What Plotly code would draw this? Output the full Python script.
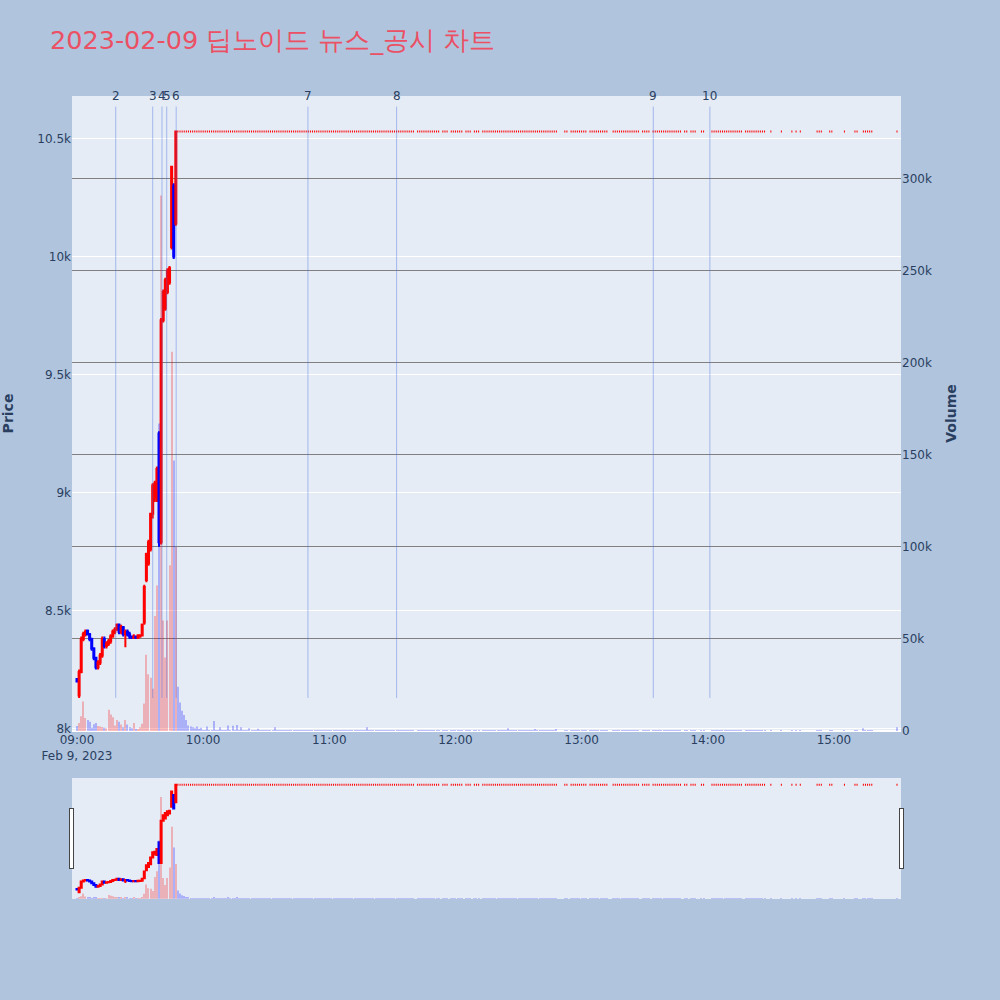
import pandas as pd
import plotly.graph_objects as go
from plotly.subplots import make_subplots

TITLE = '2023-02-09 딥노이드 뉴스_공시 차트'
DAY = '2023-02-09'
LIMIT_PRICE = 10530  # 상한가

# 1. 09:00 ~ 09:47 1분봉 (09:00 기준 분 오프셋)
early_min = list(range(48))
early_open = [8210, 8140, 8240, 8380, 8400, 8415, 8400, 8380, 8340, 8300,
              8260, 8280, 8310, 8380, 8350, 8360, 8370, 8390, 8410, 8420,
              8440, 8410, 8430, 8400, 8410, 8400, 8390, 8385, 8390, 8385,
              8390, 8395, 8450, 8630, 8700, 8760, 8910, 8980, 8970, 9250,
              8790, 9730, 9780, 9850, 9890, 10040, 10300, 10140]
early_high = [8215, 8250, 8390, 8410, 8420, 8420, 8405, 8385, 8345, 8305,
              8290, 8320, 8390, 8390, 8370, 8380, 8400, 8420, 8430, 8445,
              8445, 8440, 8435, 8420, 8420, 8410, 8395, 8400, 8395, 8400,
              8400, 8445, 8610, 8745, 8800, 8915, 9040, 9050, 9110, 9260,
              9740, 9860, 9910, 9950, 9960, 10385, 10310, 10530]
early_low = [8195, 8130, 8235, 8370, 8390, 8395, 8370, 8330, 8290, 8250,
             8250, 8270, 8300, 8340, 8340, 8350, 8360, 8385, 8400, 8415,
             8400, 8400, 8390, 8345, 8390, 8380, 8380, 8380, 8380, 8380,
             8385, 8390, 8440, 8620, 8690, 8750, 8890, 8960, 8960, 8770,
             8780, 9720, 9770, 9840, 9880, 10030, 9990, 10130]
early_close = [8200, 8240, 8380, 8400, 8410, 8400, 8380, 8340, 8300, 8260,
               8280, 8310, 8380, 8350, 8360, 8370, 8390, 8410, 8420, 8440,
               8410, 8430, 8400, 8410, 8400, 8390, 8385, 8390, 8385, 8395,
               8395, 8440, 8600, 8740, 8790, 8910, 9030, 9040, 9100, 8790,
               9730, 9850, 9900, 9940, 9950, 10380, 10000, 10530]
early_vol = [2700, 4400, 8000, 16000, 7000, 6000, 5000, 1800, 3600, 4400,
             2700, 2500, 2200, 1800, 1500, 11600, 9000, 7500, 3000, 6000,
             5000, 3500, 2000, 6000, 3500, 2000, 1500, 4400, 1200, 800,
             2000, 4000, 15000, 41400, 30800, 28900, 23000, 62500, 79000, 167000,
             291000, 60000, 40000, 60000, 90000, 206000, 147000, 100000]

# 2. 상한가 이후 체결이 있었던 분 구간 (시작, 끝)
limit_ranges = [(48, 160), (162, 172), (174, 176), (178, 183), (185, 187),
                (189, 191), (193, 228), (232, 233), (235, 242), (244, 252),
                (255, 267), (269, 272), (274, 284), (285, 287), (289, 290),
                (292, 294), (297, 298), (302, 316), (318, 327), (330, 330),
                (335, 335), (340, 340), (342, 342), (344, 344), (352, 354),
                (358, 359), (365, 365), (370, 371), (374, 378), (390, 390)]
limit_vol_default = 200
limit_vol_min = [48, 49, 50, 51, 52, 53, 54, 55, 56, 57, 58, 59, 62, 65, 68,
                 72, 74, 76, 78, 82, 86, 94, 138, 205, 218, 228, 374, 390]
limit_vol_val = [24000, 15500, 11000, 8700, 6000, 3000, 2500, 2000, 1500, 2500,
                 1200, 1800, 2500, 5400, 2000, 3000, 2800, 3200, 2000, 1500,
                 1200, 2000, 2000, 1500, 1000, 1000, 1500, 2000]

# 3. 뉴스/공시 시각
news_no = [2, 3, 4, 5, 6, 7, 8, 9, 10]
news_time = ['09:18:25', '09:36:00', '09:40:25', '09:42:40', '09:47:10',
             '10:49:50', '11:32:00', '13:34:05', '14:01:00']

# 데이터 프레임 구성
limit_min = [m for a, b in limit_ranges for m in range(a, b + 1)]
spot = dict(zip(limit_vol_min, limit_vol_val))
df = pd.DataFrame({
    'min': early_min + limit_min,
    'open': early_open + [LIMIT_PRICE] * len(limit_min),
    'high': early_high + [LIMIT_PRICE] * len(limit_min),
    'low': early_low + [LIMIT_PRICE] * len(limit_min),
    'close': early_close + [LIMIT_PRICE] * len(limit_min),
    'volume': early_vol + [spot.get(m, limit_vol_default) for m in limit_min],
})
df['time'] = pd.Timestamp(f'{DAY} 09:00') + pd.to_timedelta(df['min'], unit='min')
vol_color = ['red' if c > o else 'blue' for o, c in zip(df['open'], df['close'])]

fig = make_subplots(specs=[[{'secondary_y': True}]])

fig.add_trace(go.Candlestick(
    x=df['time'], open=df['open'], high=df['high'], low=df['low'], close=df['close'],
    increasing=dict(line=dict(color='red'), fillcolor='red'),
    decreasing=dict(line=dict(color='blue'), fillcolor='blue'),
    name='Price'
), secondary_y=False)

fig.add_trace(go.Bar(
    x=df['time'], y=df['volume'],
    marker=dict(color=vol_color, line=dict(width=0)),
    width=30000,
    opacity=0.25,
    name='Volume'
), secondary_y=True)

# 뉴스 라인
y_lo = min(early_low)
y_hi = max(early_high) * 1.01
for no, t in zip(news_no, news_time):
    ts = pd.Timestamp(f'{DAY} {t}')
    fig.add_shape(type='line', x0=ts, x1=ts, y0=y_lo, y1=y_hi, xref='x', yref='y',
                  line=dict(color='royalblue', width=1), opacity=0.4)
    fig.add_annotation(x=ts, y=1, xref='x', yref='paper', yanchor='middle',
                       text=str(no), showarrow=False, font=dict(size=12, color='#2a3f5f'))

fig.update_layout(
    width=1000, height=1000,
    font=dict(family='DejaVu Sans'),
    title=dict(text=TITLE, x=0.05, y=0.96, yanchor='middle',
               font=dict(size=25.5, color='#EB5064')),
    paper_bgcolor='lightsteelblue',
    showlegend=False,
    margin=dict(l=72, r=99, t=96, b=269, autoexpand=False),
)
fig.update_xaxes(domain=[0, 1], automargin=False,
                 range=[f'{DAY} 08:57:37', f'{DAY} 15:31:54'],
                 rangeslider=dict(visible=True, thickness=0.19))
fig.update_yaxes(title=dict(text='<b>Price</b>', standoff=20), range=[7990, 10680],
                 automargin=False, secondary_y=False)
fig.update_yaxes(title_text='<b>Volume</b>', range=[0, 345000], showgrid=True,
                 gridcolor='gray', automargin=False, secondary_y=True)

fig.write_html('out.html', config={'displayModeBar': False},
               post_script="document.body.style.margin='0';")
